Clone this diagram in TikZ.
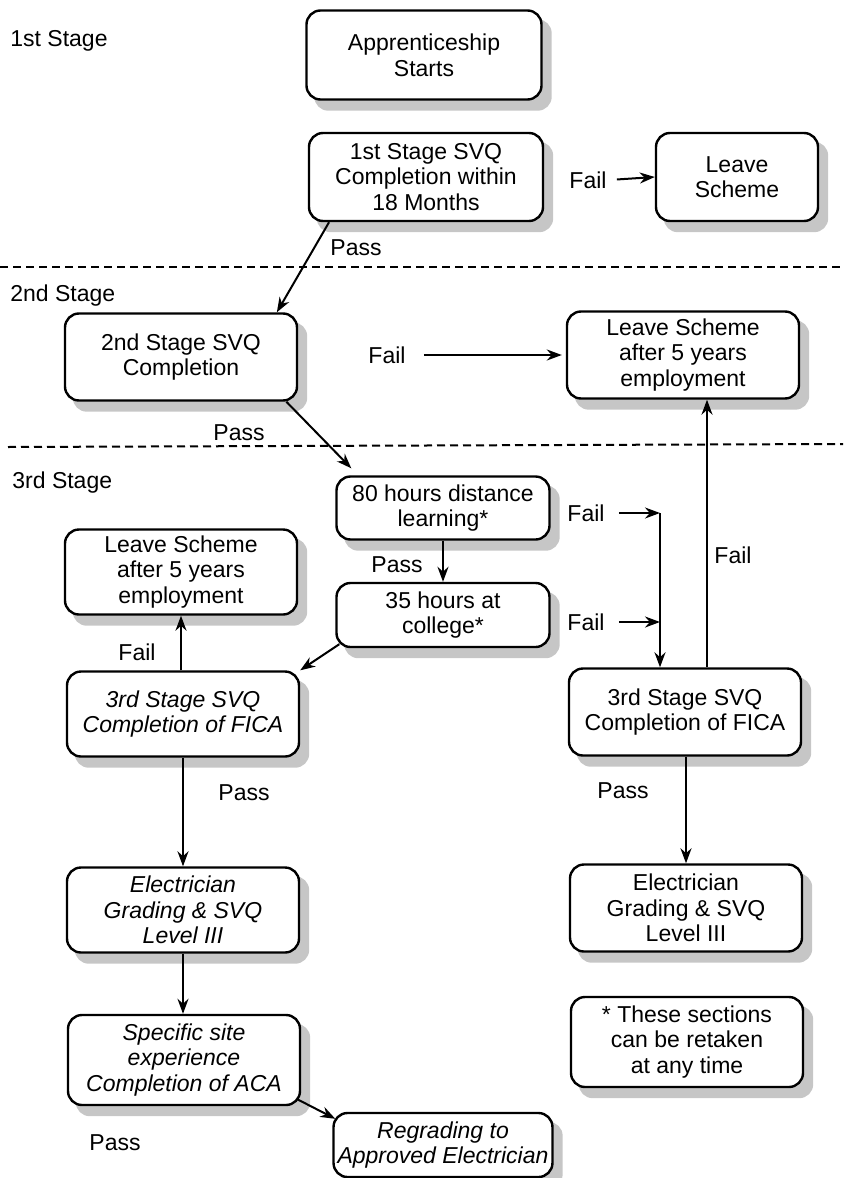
\documentclass[tikz,border=0pt]{standalone}
\usepackage{fontspec}
\setmainfont{Liberation Sans}
\usetikzlibrary{backgrounds,arrows.meta}

\tikzset{
  stagebox/.style={draw, line width=1.2pt, rounded corners=7pt, fill=white, align=center,
    inner sep=2pt},
  boxshadow/.style={fill=gray!45, rounded corners=7pt},
  flow/.style={line width=1pt, -{Stealth[length=7.5pt,width=5.5pt]}},
  lbl/.style={inner sep=1pt},
  stagerule/.style={line width=1pt, dash pattern=on 4pt off 2.5pt},
}

\begin{document}
\begin{tikzpicture}[x=0.5pt,y=-0.5pt,font=\fontsize{11.5}{12.8}\selectfont]
    \pgfmathsetmacro{\widebox}{116}
    \pgfmathsetmacro{\tallbox}{43.5}
    \pgfmathsetmacro{\narrowbox}{106.5}
    \pgfmathsetmacro{\lowbox}{32}
    \useasboundingbox (0,0) rectangle (843,1178);
    % stage separators
    \draw[stagerule] (0,267) -- (843,267);
    \draw[stagerule] (8,447) -- (843,444);
    \node[lbl,anchor=west] (stage1) at (8,41) {1st Stage};
    \node[lbl,anchor=west] (stage2) at (8,296) {2nd Stage};
    \node[lbl,anchor=west] (stage3) at (10,483) {3rd Stage};
    % first stage
    \node[stagebox,minimum width=117.5pt,minimum height=44.5pt] (start) at (424,55) {Apprenticeship\\Starts};
    \node[stagebox,minimum width=117pt,minimum height=44pt] (svq1) at (426,177) {1st Stage SVQ\\Completion within\\18 Months};
    \node[stagebox,minimum width=81pt,minimum height=44pt] (leave1) at (737,177) {Leave\\Scheme};
    \node[lbl] (fail1) at (588,180) {Fail};
    \draw[flow,shorten <=4pt] (fail1.east) -- (leave1.west);
    \node[lbl] (pass1) at (356,248) {Pass};
    % second stage
    \node[stagebox,minimum width=\widebox pt,minimum height=\tallbox pt] (svq2) at (181,357) {2nd Stage SVQ\\Completion};
    \node[stagebox,minimum width=\widebox pt,minimum height=\tallbox pt] (leave2) at (683,355) {Leave Scheme\\after 5 years\\employment};
    \draw[flow] (svq1.205) -- (svq2.25);
    \node[lbl] (fail2) at (387,355) {Fail};
    \draw[flow,shorten <=8pt,shorten >=2pt] (fail2.east) -- (leave2.west);
    \node[lbl] (pass2) at (239,433) {Pass};
    % third stage, middle column
    \node[stagebox,minimum width=\narrowbox pt,minimum height=31.5pt] (distance) at (443,508) {80 hours distance\\learning*};
    \node[stagebox,minimum width=\narrowbox pt,minimum height=\lowbox pt] (college) at (443,615) {35 hours at\\college*};
    \draw[flow] (svq2.337) -- ([shift={(16,-7)}]distance.north west);
    \draw[flow] (distance.south) -- (college.north);
    \node[lbl] (pass3) at (397,565) {Pass};
    % third stage, left column
    \node[stagebox,minimum width=\widebox pt,minimum height=42.5pt] (leave3) at (181,572) {Leave Scheme\\after 5 years\\employment};
    \node[stagebox,minimum width=\widebox pt,minimum height=42.5pt,font=\fontsize{11.5}{12.8}\selectfont\itshape] (svq3a) at (183,714) {3rd Stage SVQ\\Completion of FICA};
    \node[stagebox,minimum width=\widebox pt,minimum height=42.5pt,font=\fontsize{11.5}{12.8}\selectfont\itshape] (elec1) at (183,910) {Electrician\\Grading \& SVQ\\Level III};
    \node[stagebox,minimum width=\widebox pt,minimum height=45pt,font=\fontsize{11.5}{12.8}\selectfont\itshape] (site) at (184,1060) {Specific site\\experience\\Completion of ACA};
    \node[stagebox,minimum width=\narrowbox pt,minimum height=\lowbox pt,font=\fontsize{11.5}{12.8}\selectfont\itshape] (regrade) at (443,1145) {Regrading to\\Approved Electrician};
    \draw[flow] ([shift={(4,-4)}]college.south west) -- (svq3a.north east);
    \draw[flow] (svq3a.north -| leave3.south) -- (leave3.south);
    \node[lbl] (fail5) at (137,652) {Fail};
    \draw[flow] (svq3a.south) -- (elec1.north);
    \node[lbl] (pass4) at (244,793) {Pass};
    \draw[flow] (elec1.south) -- (elec1.south |- site.north);
    \draw[flow] ([shift={(-4,-7)}]site.south east) -- ([shift={(3,7)}]regrade.north west);
    \node[lbl] (pass5) at (115,1143) {Pass};
    % third stage, right column
    \node[stagebox,minimum width=\widebox pt,minimum height=\tallbox pt] (svq3b) at (685,712) {3rd Stage SVQ\\Completion of FICA};
    \node[stagebox,minimum width=\widebox pt,minimum height=\tallbox pt] (elec2) at (686,908) {Electrician\\Grading \& SVQ\\Level III};
    \node[stagebox,minimum width=\widebox pt,minimum height=45pt] (note) at (687,1042) {* These sections\\can be retaken\\at any time};
    \coordinate (retake) at (660,513);
    \coordinate (upline) at (707,0);
    \node[lbl] (fail3) at (586,513) {Fail};
    \node[lbl] (fail4) at (586,622) {Fail};
    \draw[flow,shorten <=6pt] (fail3.east) -- (fail3.east -| retake);
    \draw[flow,shorten <=6pt] (fail4.east) -- (fail4.east -| retake);
    \draw[flow] (retake) -- (svq3b.north -| retake);
    \draw[flow] (svq3b.north -| upline) -- (leave2.south -| upline);
    \node[lbl] (fail6) at (733,555) {Fail};
    \draw[flow] (svq3b.south -| elec2.north) -- (elec2.north);
    \node[lbl] (pass6) at (623,791) {Pass};
    % grey shadows behind the boxes
    \begin{pgfonlayer}{background}
    \foreach \b in {start,svq1,leave1,svq2,leave2,distance,college,leave3,svq3a,elec1,site,regrade,svq3b,elec2,note}
        \fill[boxshadow] ([shift={(9,10)}]\b.south west) rectangle ([shift={(9,10)}]\b.north east);
    \end{pgfonlayer}
\end{tikzpicture}
\end{document}
